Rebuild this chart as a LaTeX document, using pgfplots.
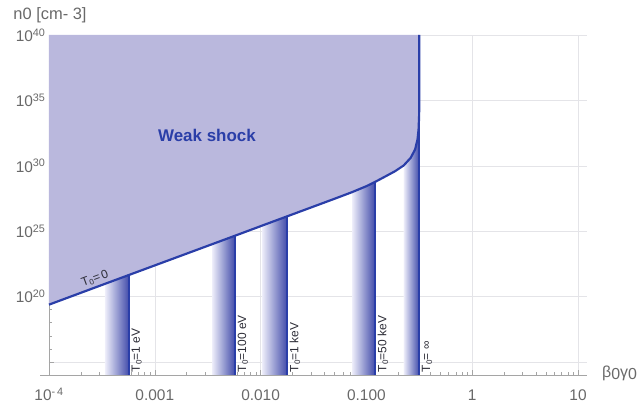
\documentclass[border=0pt]{standalone}
\usepackage{pgfplots}
\pgfplotsset{compat=1.18}
\usepackage{pgfplotstable}
\usepackage{fontspec}
\setmainfont{Liberation Sans}

\definecolor{shockfill}{RGB}{186,184,221}
\definecolor{shockline}{RGB}{42,62,168}
\definecolor{bandblue}{RGB}{66,76,170}
\definecolor{bandpale}{RGB}{238,238,250}
\definecolor{tickgray}{RGB}{105,105,105}
\definecolor{gridgray}{RGB}{228,228,232}
\definecolor{axisgray}{RGB}{165,165,165}
\definecolor{labeldark}{RGB}{45,45,55}

% Weak-shock boundary n0(beta0 gamma0)
\pgfplotstableread{
x        n
1e-4     2.399e19
3.381e-4 9.333e20
5.702e-4 4.467e21
1e-3     2.399e22
3.475e-3 1e24
5.728e-3 4.467e24
1e-2     2.399e25
1.030e-2 2.630e25
1.778e-2 1.349e26
3.162e-2 7.586e26
5.012e-2 3.020e27
7.311e-2 9.550e27
0.1      2.754e28
0.1205   5.754e28
0.1500   1.479e29
0.1862   3.802e29
0.2249   1.047e30
0.2618   3.981e30
0.2884   1.738e31
0.3041   1e32
0.3112   5.888e32
0.3148   6.026e33
0.3162   1e35
0.3162   1e40
}\boundary

% same curve closed through the upper left corner
\pgfplotstableread{
x        n
1e-4     2.399e19
3.381e-4 9.333e20
5.702e-4 4.467e21
1e-3     2.399e22
3.475e-3 1e24
5.728e-3 4.467e24
1e-2     2.399e25
1.030e-2 2.630e25
1.778e-2 1.349e26
3.162e-2 7.586e26
5.012e-2 3.020e27
7.311e-2 9.550e27
0.1      2.754e28
0.1205   5.754e28
0.1500   1.479e29
0.1862   3.802e29
0.2249   1.047e30
0.2618   3.981e30
0.2884   1.738e31
0.3041   1e32
0.3112   5.888e32
0.3148   6.026e33
0.3162   1e35
0.3162   1e40
1e-4     1e40
}\weakregion

\begin{document}
\begin{tikzpicture}
\path[use as bounding box] (-49bp,-32bp) rectangle (590bp,375bp);
\begin{axis}[
  scale only axis, width=538bp, height=340bp,
  xmode=log, ymode=log,
  xmin=1e-4, xmax=12.16, ymin=1e14, ymax=1e40,
  axis x line=bottom, axis y line=left,
  axis line style={-, draw=axisgray, line width=0.6pt},
  xtick={1e-4,1e-3,1e-2,1e-1,1,10},
  xticklabels={10\textsuperscript{-\,4},0.001,0.010,0.100,1,10},
  ytick={1e15,1e20,1e25,1e30,1e35,1e40},
  yticklabels={,10\textsuperscript{20},10\textsuperscript{25},10\textsuperscript{30},10\textsuperscript{35},10\textsuperscript{40}},
  minor xtick={2e-4,3e-4,4e-4,5e-4,6e-4,7e-4,8e-4,9e-4,
               2e-3,3e-3,4e-3,5e-3,6e-3,7e-3,8e-3,9e-3,
               2e-2,3e-2,4e-2,5e-2,6e-2,7e-2,8e-2,9e-2,
               0.2,0.3,0.4,0.5,0.6,0.7,0.8,0.9,
               2,3,4,5,6,7,8,9},
  minor ytick={1e16,1e17,1e18,1e19,1e21,1e22,1e23,1e24,1e26,1e27,1e28,1e29,
               1e31,1e32,1e33,1e34,1e36,1e37,1e38,1e39},
  grid=major,
  major grid style={draw=gridgray, line width=0.5pt},
  minor grid style={draw=none},
  tick style={draw=axisgray, line width=0.5pt},
  major tick length=5bp, minor tick length=3bp,
  tick align=inside,
  ticklabel style={font=\fontsize{15.5}{18}\selectfont, text=tickgray},
  xticklabel style={anchor=base, yshift=-26bp},
  clip=false,
]
% weak-shock region
\addplot[draw=none, fill=shockfill] table {\weakregion};

% temperature bands below the boundary
\addplot[draw=none, left color=bandpale, right color=bandblue]
  coordinates {(3.381e-4,1e14) (3.381e-4,9.333e20) (5.702e-4,4.467e21) (5.702e-4,1e14)};
\addplot[draw=none, left color=bandpale, right color=bandblue]
  coordinates {(3.475e-3,1e14) (3.475e-3,1e24) (5.728e-3,4.467e24) (5.728e-3,1e14)};
\addplot[draw=none, left color=bandpale, right color=bandblue]
  coordinates {(1.030e-2,1e14) (1.030e-2,2.630e25) (1.778e-2,1.349e26) (1.778e-2,1e14)};
\addplot[draw=none, left color=bandpale, right color=bandblue]
  coordinates {(7.311e-2,1e14) (7.311e-2,9.550e27) (0.1,2.754e28) (0.1205,5.754e28) (0.1205,1e14)};
\addplot[draw=none, left color=bandpale, right color=bandblue]
  coordinates {(0.2249,1e14) (0.2249,1.047e30) (0.2618,3.981e30) (0.2884,1.738e31)
               (0.3041,1e32) (0.3112,5.888e32) (0.3148,6.026e33) (0.3162,1e35) (0.3162,1e14)};

% vertical temperature lines
\addplot[shockline, line width=1.9pt] coordinates {(5.702e-4,1e14) (5.702e-4,4.467e21)};
\addplot[shockline, line width=1.9pt] coordinates {(5.728e-3,1e14) (5.728e-3,4.467e24)};
\addplot[shockline, line width=1.9pt] coordinates {(1.778e-2,1e14) (1.778e-2,1.349e26)};
\addplot[shockline, line width=1.9pt] coordinates {(0.1205,1e14) (0.1205,5.754e28)};
\addplot[shockline, line width=1.9pt] coordinates {(0.3162,1e14) (0.3162,1e40)};

% boundary curve
\addplot[shockline, line width=2.2pt, line join=round] table {\boundary};

% labels
\node[font=\bfseries\fontsize{17}{20}\selectfont, text=shockline] at (axis cs:3.11e-3,2e32) {Weak shock};
\node[rotate=20.4, anchor=south, inner sep=3bp, font=\fontsize{12}{14}\selectfont, text=labeldark]
  at (axis cs:2.9e-4,5.9e20) {T\textsubscript{0}=\,0};
\foreach \xx/\lab in {5.702e-4/1 eV, 5.728e-3/100 eV, 1.778e-2/1 keV, 0.1205/50 keV}{
  \edef\temp{\noexpand\node[rotate=90, anchor=north west, inner sep=2.5bp,
    font=\noexpand\fontsize{12}{14}\noexpand\selectfont, text=labeldark]
    at (axis cs:\xx,1e14) {T\noexpand\textsubscript{0}=\lab};}
  \temp
}
\node[rotate=90, anchor=north west, inner sep=2.5bp, font=\fontsize{12}{14}\selectfont, text=labeldark]
  at (axis cs:0.3162,1e14) {T\textsubscript{0}= ∞};
\end{axis}
% axis extension to the left of the vertical axis
\draw[axisgray, line width=0.6pt] (0,0) -- (-9bp,0);
% axis titles
\node[font=\fontsize{16.5}{19}\selectfont, text=tickgray] at (1bp,360bp) {n0 [cm- 3]};
\node[anchor=west, inner sep=0pt, font=\fontsize{16}{19}\selectfont, text=tickgray] at (553bp,2bp)
  {β\raisebox{-2bp}{0}γ\raisebox{-2bp}{0}};
\end{tikzpicture}
\end{document}
